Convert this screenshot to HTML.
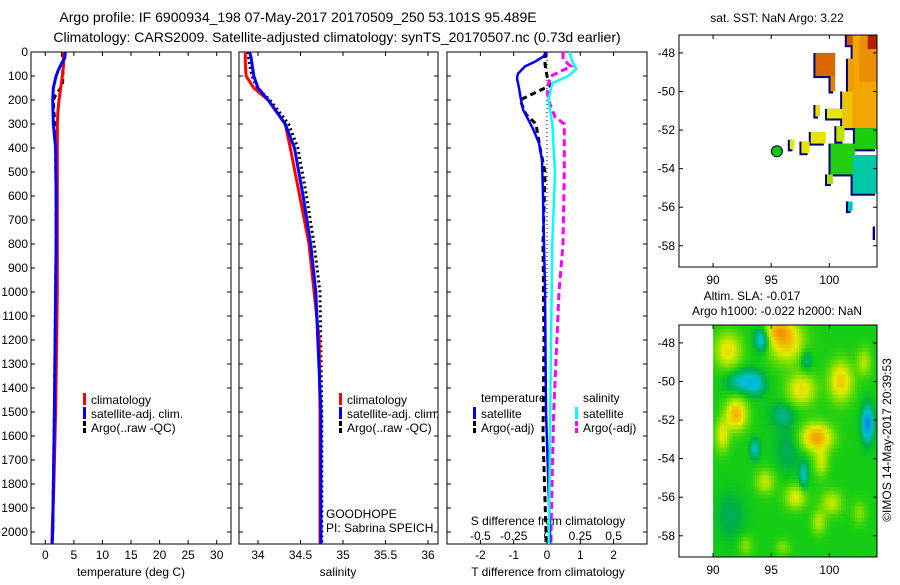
<!DOCTYPE html>
<html><head><meta charset="utf-8">
<style>
html,body{margin:0;padding:0;background:#fff;}
svg text{font-family:"Liberation Sans",sans-serif;font-size:12px;fill:#000;}
svg text.ttl{font-size:14px;}
</style></head>
<body>
<svg id="fig" width="900" height="580" xmlns="http://www.w3.org/2000/svg">
<text class="ttl" x="298" y="22" text-anchor="middle">Argo profile: IF 6900934_198 07-May-2017 20170509_250 53.101S 95.489E</text>
<text class="ttl" x="337" y="42" text-anchor="middle">Climatology: CARS2009. Satellite-adjusted climatology: synTS_20170507.nc (0.73d earlier)</text>
<g id="p1"></g>
<g id="p2"></g>
<g id="p3"></g>
<g id="m1"></g>
<g id="m2"></g>
<text x="777" y="22" text-anchor="middle">sat. SST: NaN Argo: 3.22</text>
<text x="752" y="300" text-anchor="middle">Altim. SLA: -0.017</text>
<text x="777" y="315" text-anchor="middle">Argo h1000: -0.022 h2000: NaN</text>
<text x="0" y="0" text-anchor="middle" transform="translate(891,440) rotate(-90)">©IMOS 14-May-2017 20:39:53</text>
</svg>
<script>
// ---------- data ----------
const tDepth = [0,50,100,150,200,250,300,400,600,800,1000,1200,1500,1800,2000,2050];
const tClim  = [3.2,3.2,3.0,2.7,2.4,2.2,2.1,2.1,2.1,2.1,2.1,2.0,1.8,1.5,1.2,1.2];
const satDepth = [0,25,50,75,100,150,200,300,400,600,800,1000,1500,2000,2050];
const tSat   = [3.5,3.4,2.8,2.3,1.9,1.4,1.3,1.4,1.8,1.9,1.9,1.8,1.6,1.3,1.2];
const argoDepth = [0,50,100,140,160,180,200,250,300,400,600,800,1000,1500,2000,2050];
const tArgo  = [3.0,3.0,3.1,3.0,2.4,1.8,1.4,1.5,1.7,1.8,1.9,1.9,1.8,1.6,1.3,1.2];
const sClim  = [33.85,33.85,33.86,33.95,34.12,34.22,34.32,34.38,34.49,34.6,34.66,34.72,34.73,34.73,34.73,34.73];
const sSat   = [33.9,33.92,33.93,33.94,33.95,34.0,34.12,34.32,34.43,34.53,34.62,34.68,34.74,34.74,34.74];
const sArgo  = [33.88,33.9,33.93,33.98,34.02,34.08,34.14,34.25,34.36,34.47,34.57,34.66,34.73,34.75,34.75,34.75];
const dDepth = [0,20,40,60,90,110,150,200,240,280,320,380,450,600,800,1000,1500,2000,2050];
const dTsat  = [0.0,-0.12,-0.36,-0.66,-0.87,-0.9,-0.84,-0.78,-0.72,-0.57,-0.42,-0.24,-0.15,-0.12,-0.09,-0.06,-0.03,0.09,0.09];
const daDepth = [0,50,100,140,160,200,260,300,400,500,800,1200,1600,2000,2050];
const dTargo = [-0.05,-0.06,0.0,0.09,-0.21,-0.81,-0.63,-0.33,-0.21,-0.06,-0.12,-0.09,-0.12,-0.03,-0.03];
const dsDepth = [0,40,70,100,130,200,300,500,800,1200,2000,2050];
const dSsat  = [0.17,0.19,0.22,0.16,0.04,0.01,0.04,0.06,0.04,0.03,0.015,0.015];
const dmDepth = [0,30,60,100,150,200,270,300,500,800,1000,1500,2000,2050];
const dSargo = [0.12,0.12,0.18,0.03,0.0,0.01,0.06,0.13,0.13,0.12,0.09,0.05,0.03,0.03];
// SST patches: lon0, lat0, lon1, lat1, temperature
const sstPatches = [
 [102.0,-47.07,104.1,-51.9,7.6],[102.6,-47.07,104.1,-49.5,8.2],[103.3,-47.07,104.1,-47.8,10.5],[101.5,-47.07,102.0,-47.6,9.5],
 [98.8,-48.0,100.5,-49.2,9.2],[100.1,-49.2,100.5,-50.0,8.6],[101.6,-48.3,102.1,-50.0,7.8],
 [98.8,-50.7,99.2,-51.3,6.3],[99.8,-50.9,101.2,-51.4,6.0],[101.1,-50.0,102.0,-51.9,6.8],
 [98.4,-52.1,99.7,-52.7,6.1],[96.6,-52.5,97.0,-53.0,6.0],[97.6,-52.6,98.3,-53.2,6.0],
 [100.6,-51.8,101.3,-52.6,5.6],[102.2,-51.9,104.1,-53.0,3.6],[100.1,-52.7,102.2,-54.3,3.7],
 [102.0,-53.3,104.1,-55.3,2.6],[99.8,-54.3,100.3,-54.8,5.3],[101.6,-55.7,102.0,-56.2,2.5],
 [103.9,-57.0,104.1,-57.6,0.0]
];
const argoLon = 95.49, argoLat = -53.1, argoSST = 3.22;
// SLA anomaly blobs: lon, lat, amplitude, lonRadius, latRadius
const slaBlobs = [
 [91.3,-48.4,0.7,1.1,0.9],[96.3,-48.0,0.8,1.5,1.0],[95.6,-47.3,0.7,1.2,0.6],[94.2,-47.8,-0.7,0.6,0.6],
 [92.5,-50.0,-0.5,1.2,0.6],[93.7,-50.1,-0.4,0.8,0.6],[97.6,-50.4,0.7,1.2,0.8],[101.0,-50.0,0.8,1.0,1.0],
 [92.0,-51.7,0.95,0.9,0.8],[90.8,-52.8,0.6,0.6,0.8],[96.0,-51.7,-0.3,1.0,0.6],[98.9,-52.9,1.05,1.3,0.7],
 [99.3,-54.2,0.5,0.6,0.7],[103.3,-52.2,-0.85,0.5,0.9],[93.6,-53.5,-0.5,0.4,0.5],[97.8,-54.9,-0.5,0.35,0.7],
 [94.5,-55.2,0.5,0.8,0.6],[97.1,-56.0,0.6,0.9,0.6],[100.2,-56.3,0.5,0.9,0.6],[99.1,-57.3,0.45,0.6,0.6],
 [102.6,-56.8,0.3,0.6,0.6],[98.0,-48.9,-0.35,0.5,0.6],[103.0,-49.0,0.45,0.6,0.7],[92.8,-58.5,0.3,0.6,0.5],
 [96.0,-58.6,0.3,0.6,0.4],[91.5,-57.0,-0.2,1.2,1.2],[96.5,-53.5,-0.2,1.2,1.2]
];
const depthTicks = [0,100,200,300,400,500,600,700,800,900,1000,1100,1200,1300,1400,1500,1600,1700,1800,1900,2000];
const tTicks = [0,5,10,15,20,25,30];
const sTicks = [34,34.5,35,35.5,36];
const sTickLbl = ["34","34.5","35","35.5","36"];
const dTTicks = [-2,-1,0,1,2];
const dSTicks = [-0.5,-0.25,0,0.25,0.5];
const dSLbl = ["-0.5","-0.25","0","0.25","0.5"];
const lonTicks = [90,95,100];
const latTicks = [-48,-50,-52,-54,-56,-58];

// ---------- helpers ----------
const NS="http://www.w3.org/2000/svg";
function mk(parent,tag,attrs,text){const e=document.createElementNS(NS,tag);for(const k in attrs)e.setAttribute(k,attrs[k]);if(text!==undefined)e.textContent=text;parent.appendChild(e);return e;}
const yD = d => 52 + d*0.24;
function linear(d0,d1,r0,r1){return v=>r0+(v-d0)*(r1-r0)/(d1-d0);}
function frame(g,x0,y0,x1,y1){
  const r=mk(g,'rect',{x:x0,y:y0,width:x1-x0,height:y1-y0,fill:'none',stroke:'#000','stroke-width':1});
  
  
}
function depthTicksOn(g,x0,x1,labels){
  depthTicks.forEach(d=>{const y=yD(d);
    mk(g,'line',{x1:x0,y1:y,x2:x0+4,y2:y,stroke:'#000'});mk(g,'line',{x1:x1-4,y1:y,x2:x1,y2:y,stroke:'#000'});
    if(labels){const t=mk(g,'text',{x:x0-3,y:y+4,'text-anchor':'end'},String(d));
      
      }
  });
}
function xTicksOn(g,vals,lbls,sx,top,bot,ly,drawTop){
  vals.forEach((v,i)=>{const x=sx(v);
    mk(g,'line',{x1:x,y1:bot,x2:x,y2:bot-4,stroke:'#000'});
    if(drawTop!==false)mk(g,'line',{x1:x,y1:top,x2:x,y2:top+4,stroke:'#000'});
    if(ly){const t=mk(g,'text',{x:x,y:ly,'text-anchor':'middle'},lbls[i]);
      
      }
  });
}
function profile(g,vals,depths,sx,color,dash,w,name){
  const pts=vals.map((v,i)=>sx(v).toFixed(1)+','+yD(depths[i]).toFixed(1)).join(' ');
  const p=mk(g,'polyline',{points:pts,fill:'none',stroke:color,'stroke-width':w||3,'stroke-dasharray':dash||'none'});
  
  
}
function legend(g,x,y,color,dashed,label,name){
  if(dashed)mk(g,'rect',{x:x,y:y-9,width:3,height:5,fill:color}),mk(g,'rect',{x:x,y:y-2,width:3,height:5,fill:color});
  else mk(g,'rect',{x:x,y:y-9,width:3,height:12,fill:color});
  const t=mk(g,'text',{x:x+8,y:y+2},label);
  
  
}

// ---------- panel 1 ----------
(function(){
  const g=document.getElementById('p1');
  const sx=linear(-2.5,32.5,31,231);
  frame(g,31,52,231,544);
  depthTicksOn(g,31,231,true);
  xTicksOn(g,tTicks,tTicks.map(String),sx,52,544,559);
  profile(g,tArgo,argoDepth,sx,'#000','5,4',3,'argo-temperature-line');
  profile(g,tClim,tDepth,sx,'#f00','',3,'climatology-temperature-line');
  profile(g,tSat,satDepth,sx,'#00f','',3,'satellite-temperature-line');
  legend(g,83,402,'#f00',false,'climatology','legend-climatology');
  legend(g,83,416,'#00f',false,'satellite-adj. clim.','legend-satellite');
  legend(g,83,430,'#000',true,'Argo(..raw -QC)','legend-argo');
  mk(g,'text',{x:131,y:576,'text-anchor':'middle'},'temperature (deg C)');
})();
// ---------- panel 2 ----------
(function(){
  const g=document.getElementById('p2');
  const sx=linear(34,34.5,258,300.5);
  frame(g,239,52,438,544);
  depthTicksOn(g,239,438,false);
  xTicksOn(g,sTicks,sTickLbl,sx,52,544,559);
  profile(g,sArgo,argoDepth,sx,'#000','2,3',3,'argo-salinity-line');
  profile(g,sClim,tDepth,sx,'#f00','',3,'climatology-salinity-line');
  profile(g,sSat,satDepth,sx,'#00f','',3,'satellite-salinity-line');
  legend(g,339,402,'#f00',false,'climatology','legend-climatology');
  legend(g,339,416,'#00f',false,'satellite-adj. clim.','legend-satellite');
  legend(g,339,430,'#000',true,'Argo(..raw -QC)','legend-argo');
  mk(g,'text',{x:326,y:518},'GOODHOPE');
  mk(g,'text',{x:326,y:532},'PI: Sabrina SPEICH');
  mk(g,'text',{x:338,y:576,'text-anchor':'middle'},'salinity');
})();
// ---------- panel 3 ----------
(function(){
  const g=document.getElementById('p3');
  const sx=linear(0,1,547,580.3);
  const ss=linear(0,0.25,547,580.3);
  frame(g,447,52,647,544);
  depthTicksOn(g,447,647,false);
  xTicksOn(g,dTTicks,dTTicks.map(String),sx,52,544,559);
  mk(g,'line',{x1:547,y1:52,x2:547,y2:300,stroke:'#000','stroke-dasharray':'1,3'});
  dSLbl.forEach((l,i)=>{const t=mk(g,'text',{x:ss(dSTicks[i]),y:540,'text-anchor':'middle'},l);
    
    });
  mk(g,'text',{x:548,y:525,'text-anchor':'middle'},'S difference from climatology');
  profile(g,dTargo,daDepth,sx,'#000','6,4',3,'argo-temp-diff-line');
  profile(g,dSargo,dmDepth,ss,'#f0f','7,4',3,'argo-sal-diff-line');
  profile(g,dTsat,dDepth,sx,'#00f','',2.5,'satellite-temp-diff-line');
  profile(g,dSsat,dsDepth,ss,'#0ff','',2.5,'satellite-sal-diff-line');
  mk(g,'text',{x:481,y:402},'temperature');
  mk(g,'text',{x:583,y:402},'salinity');
  legend(g,473,416,'#00f',false,'satellite','legend-temp-satellite');
  legend(g,473,430,'#000',true,'Argo(-adj)','legend-temp-argo');
  legend(g,575,416,'#0ff',false,'satellite','legend-sal-satellite');
  legend(g,575,430,'#f0f',true,'Argo(-adj)','legend-sal-argo');
  mk(g,'text',{x:548,y:576,'text-anchor':'middle'},'T difference from climatology');
})();
// ---------- maps ----------
function ramp(stops,v){
  if(v<=stops[0][0])return 'rgb('+stops[0][1]+')';
  for(let i=1;i<stops.length;i++){if(v<=stops[i][0]){const a=stops[i-1],b=stops[i],f=(v-a[0])/(b[0]-a[0]);
    return 'rgb('+a[1].map((x,k)=>Math.round(x+(b[1][k]-x)*f)).join(',')+')';}}
  return 'rgb('+stops[stops.length-1][1]+')';
}
const sstStops=[[2.5,[0,200,190]],[3.2,[0,200,20]],[4.5,[90,215,0]],[6,[230,230,0]],[7.6,[245,165,0]],[9.2,[215,105,0]],[10.5,[180,30,0]]];
const slaStops=[[-1,[0,110,240]],[-0.5,[0,195,215]],[-0.15,[0,175,70]],[0,[20,205,20]],[0.3,[130,225,0]],[0.6,[230,235,0]],[1,[245,170,0]],[1.3,[240,120,0]]];
function mapAxes(g,y0,y1){
  const sx=linear(87.07,104.1,679,877), sy=linear(-47.07,-59.1,y0,y1);
  return {sx,sy,finish(){
    frame(g,679,y0,877,y1);
    lonTicks.forEach(l=>{const x=sx(l);mk(g,'line',{x1:x,y1:y0,x2:x,y2:y0+4,stroke:'#000'});mk(g,'line',{x1:x,y1:y1,x2:x,y2:y1-4,stroke:'#000'});
      const t=mk(g,'text',{x:x,y:y1+17,'text-anchor':'middle'},String(l));
      
      });
    latTicks.forEach(l=>{const y=sy(l);mk(g,'line',{x1:679,y1:y,x2:683,y2:y,stroke:'#000'});mk(g,'line',{x1:873,y1:y,x2:877,y2:y,stroke:'#000'});
      const t=mk(g,'text',{x:675,y:y+4,'text-anchor':'end'},String(l));
      
      });
  }};
}
(function(){
  const g=document.getElementById('m1');
  const a=mapAxes(g,35,267);
  sstPatches.forEach(p=>{
    const x=a.sx(p[0]),y=a.sy(p[1]),w=a.sx(p[2])-x,h=a.sy(p[3])-y;
    mk(g,'rect',{x:x-2,y:y,width:w,height:h+2,fill:'#00007a'});
  });
  sstPatches.forEach(p=>{
    if(p[4]<=0)return;
    const x=a.sx(p[0]),y=a.sy(p[1]),w=a.sx(p[2])-x,h=a.sy(p[3])-y;
    const r=mk(g,'rect',{x:x,y:y,width:w,height:h,fill:ramp(sstStops,p[4])});
    
    
  });
  const c=mk(g,'circle',{cx:a.sx(argoLon),cy:a.sy(argoLat),r:5.5,fill:ramp(sstStops,argoSST),stroke:'#000','stroke-width':1});
  
  
  a.finish();
})();
(function(){
  const g=document.getElementById('m2');
  const a=mapAxes(g,325,557);
  const step=0.2;
  for(let lon=90;lon<104.1;lon+=step){
    for(let lat=-47.07;lat>-59.1;lat-=step){
      const cl=lon+step/2, ct=lat-step/2;
      let v=0;
      slaBlobs.forEach(b=>{const dx=(cl-b[0])/b[3],dy=(ct-b[1])/b[4];v+=b[2]*Math.exp(-(dx*dx+dy*dy));});
      const x=a.sx(lon),y=a.sy(lat);
      const w=Math.min(a.sx(lon+step),877)-x, h=Math.min(a.sy(lat-step),557)-y;
      mk(g,'rect',{x:x.toFixed(2),y:y.toFixed(2),width:(w+0.4).toFixed(2),height:(h+0.4).toFixed(2),fill:ramp(slaStops,v)});
    }
  }
  a.finish();
})();
</script>
</body></html>
